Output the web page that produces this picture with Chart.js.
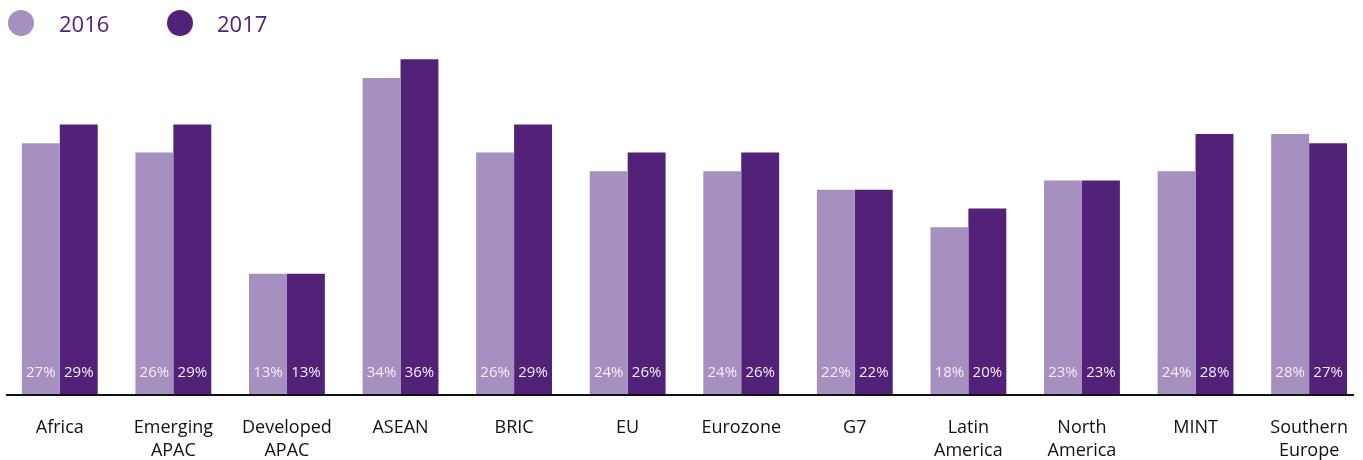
<!DOCTYPE html>
<html>
<head>
<meta charset="utf-8">
<script src="https://cdn.jsdelivr.net/npm/chart.js@4/dist/chart.umd.min.js"></script>
<style>
  html, body { margin: 0; padding: 0; background: #fff; overflow: hidden; }
  .wrap { position: relative; width: 1370px; height: 460px; }
  .legend { position: absolute; top: 0; left: 0; height: 46px; font-family: 'Open Sans', sans-serif; font-size: 22px; color: #522178; }
  .legend .dot { position: absolute; top: 10px; width: 26px; height: 26px; border-radius: 50%; }
  .legend .lbl { position: absolute; top: 8px; line-height: 30px; }
</style>
</head>
<body>
<div class="wrap">
  <canvas id="chart"></canvas>
  <div class="legend">
    <span class="dot" style="left:8px;background:#a690bf"></span><span class="lbl" style="left:59px">2016</span>
    <span class="dot" style="left:167px;background:#522178"></span><span class="lbl" style="left:217px">2017</span>
  </div>
</div>
<script>
const categories = [
  'Africa', ['Emerging', 'APAC'], ['Developed', 'APAC'], 'ASEAN', 'BRIC', 'EU',
  'Eurozone', 'G7', ['Latin', 'America'], ['North', 'America'], 'MINT', ['Southern', 'Europe']
];
const values2016 = [27, 26, 13, 34, 26, 24, 24, 22, 18, 23, 24, 28];
const values2017 = [29, 29, 13, 36, 29, 26, 26, 22, 20, 23, 28, 27];

const light = '#a690bf';
const dark = '#522178';

// white % labels near the foot of every bar, plus the black base line
const barLabels = {
  id: 'barLabels',
  afterDatasetsDraw(chart) {
    const ctx = chart.ctx;
    const area = chart.chartArea;
    ctx.save();
    ctx.fillStyle = '#f4eef8';
    ctx.font = '15px "Open Sans", sans-serif';
    ctx.textAlign = 'center';
    ctx.textBaseline = 'middle';
    chart.data.datasets.forEach((ds, i) => {
      chart.getDatasetMeta(i).data.forEach((bar, j) => {
        ctx.fillText(ds.data[j] + '%', bar.x, area.bottom - 22);
      });
    });
    ctx.strokeStyle = '#111';
    ctx.lineWidth = 2;
    ctx.beginPath();
    ctx.moveTo(6, area.bottom);
    ctx.lineTo(1354, area.bottom);
    ctx.stroke();
    ctx.restore();
  }
};

new Chart(document.getElementById('chart'), {
  type: 'bar',
  data: {
    labels: categories,
    datasets: [
      { label: '2016', data: values2016, backgroundColor: light },
      { label: '2017', data: values2017, backgroundColor: dark }
    ]
  },
  options: {
    responsive: true,
    maintainAspectRatio: false,
    animation: false,
    layout: { padding: { top: 22, left: 3, right: 1, bottom: 0 } },
    categoryPercentage: 0.668,
    barPercentage: 1,
    plugins: {
      legend: { display: false },
      tooltip: { enabled: false }
    },
    scales: {
      x: {
        grid: { display: false, drawTicks: false },
        border: { display: false },
        afterFit(scale) { scale.height = 65; },
        ticks: {
          color: '#111',
          padding: 22,
          maxRotation: 0,
          autoSkip: false,
          font: { family: 'Open Sans', size: 18, lineHeight: 1.25 }
        }
      },
      y: {
        display: false,
        min: 0,
        max: 40
      }
    }
  },
  plugins: [barLabels]
});
</script>
</body>
</html>
